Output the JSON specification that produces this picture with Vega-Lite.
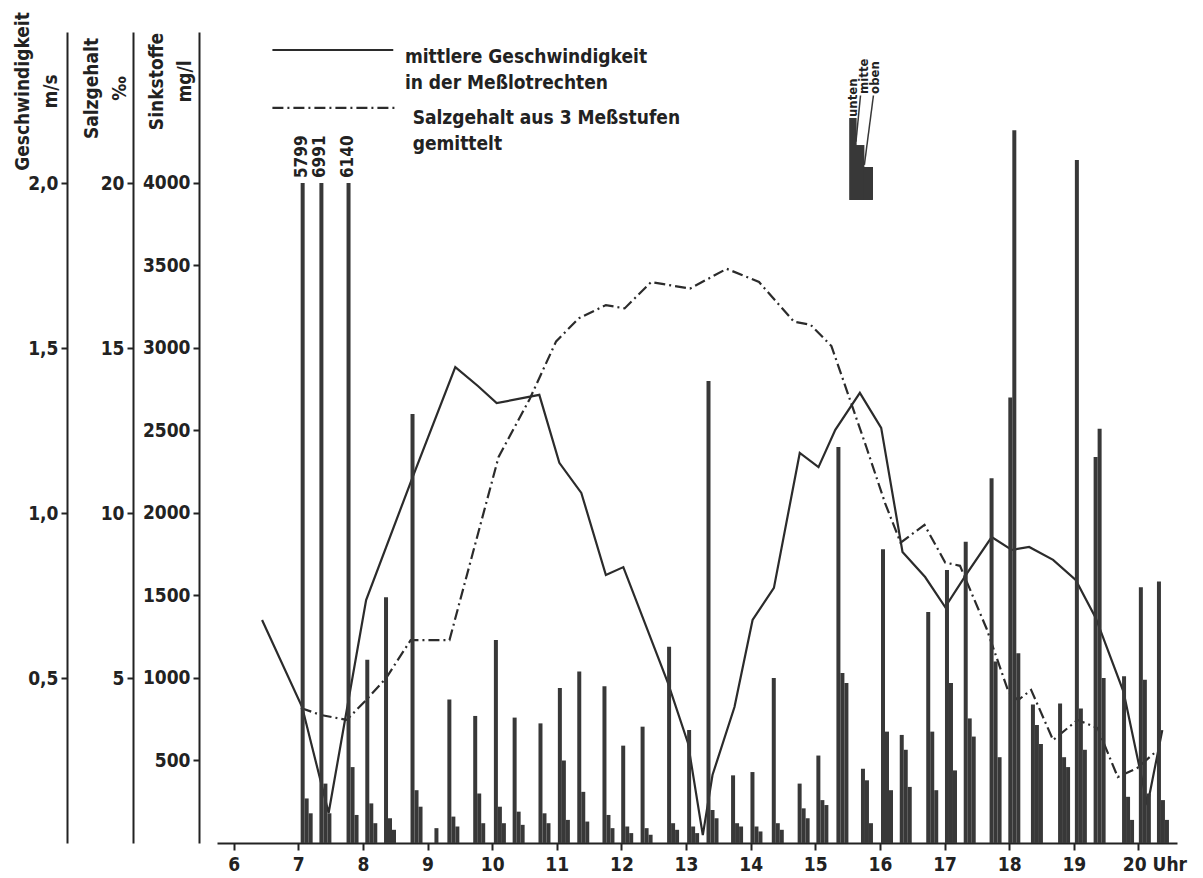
{
  "$schema": "https://vega.github.io/schema/vega-lite/v6.json",
  "width": 960,
  "height": 811,
  "autosize": {"type": "none"},
  "padding": {"left": 217, "top": 32, "right": 26, "bottom": 35},
  "background": "white",
  "config": {
    "view": {"stroke": null},
    "axis": {
      "grid": false,
      "domainColor": "#222",
      "domainWidth": 2,
      "tickColor": "#222",
      "tickWidth": 2,
      "tickSize": 6,
      "labelFont": "DejaVu Sans Condensed",
      "labelFontWeight": "bold",
      "labelFontSize": 19,
      "labelColor": "#222",
      "labelPadding": 3,
      "titleFont": "DejaVu Sans Condensed",
      "titleFontWeight": "bold",
      "titleFontSize": 19,
      "titleColor": "#222"
    },
    "text": {"font": "DejaVu Sans Condensed", "fontWeight": "bold", "color": "#222"}
  },
  "datasets": {
    "geschwindigkeit": [
      {"t": 6.44, "v": 0.676}, {"t": 7.06, "v": 0.412}, {"t": 7.47, "v": 0.091}, {"t": 8.05, "v": 0.736},
      {"t": 8.77, "v": 1.109}, {"t": 9.43, "v": 1.442}, {"t": 9.78, "v": 1.385}, {"t": 10.07, "v": 1.333},
      {"t": 10.73, "v": 1.358}, {"t": 11.04, "v": 1.152}, {"t": 11.38, "v": 1.061}, {"t": 11.76, "v": 0.812},
      {"t": 12.03, "v": 0.836}, {"t": 12.72, "v": 0.485}, {"t": 13.03, "v": 0.303}, {"t": 13.26, "v": 0.024},
      {"t": 13.41, "v": 0.206}, {"t": 13.75, "v": 0.412}, {"t": 14.03, "v": 0.676}, {"t": 14.36, "v": 0.773},
      {"t": 14.76, "v": 1.182}, {"t": 15.05, "v": 1.139}, {"t": 15.31, "v": 1.252}, {"t": 15.69, "v": 1.364},
      {"t": 16.02, "v": 1.258}, {"t": 16.35, "v": 0.882}, {"t": 16.70, "v": 0.806}, {"t": 17.01, "v": 0.715},
      {"t": 17.35, "v": 0.818}, {"t": 17.73, "v": 0.927}, {"t": 18.04, "v": 0.888}, {"t": 18.31, "v": 0.897},
      {"t": 18.68, "v": 0.858}, {"t": 19.03, "v": 0.797}, {"t": 19.34, "v": 0.682}, {"t": 19.77, "v": 0.458},
      {"t": 20.14, "v": 0.115}, {"t": 20.37, "v": 0.342}
    ],
    "salz": [
      {"t": 7.04, "s": 4.09}, {"t": 7.35, "s": 3.88}, {"t": 7.75, "s": 3.73}, {"t": 8.05, "s": 4.33},
      {"t": 8.36, "s": 5.0}, {"t": 8.74, "s": 6.15}, {"t": 9.34, "s": 6.15}, {"t": 10.10, "s": 11.7},
      {"t": 10.58, "s": 13.45}, {"t": 10.99, "s": 15.2}, {"t": 11.34, "s": 15.9}, {"t": 11.76, "s": 16.3},
      {"t": 12.05, "s": 16.2}, {"t": 12.46, "s": 17.0}, {"t": 13.06, "s": 16.8}, {"t": 13.63, "s": 17.4},
      {"t": 14.13, "s": 17.0}, {"t": 14.67, "s": 15.8}, {"t": 14.93, "s": 15.7}, {"t": 15.25, "s": 15.06},
      {"t": 15.79, "s": 12.0}, {"t": 16.08, "s": 10.3}, {"t": 16.32, "s": 9.1}, {"t": 16.69, "s": 9.64},
      {"t": 17.01, "s": 8.5}, {"t": 17.24, "s": 8.4}, {"t": 17.65, "s": 6.5}, {"t": 17.99, "s": 4.58},
      {"t": 18.14, "s": 4.33}, {"t": 18.34, "s": 4.64}, {"t": 18.68, "s": 3.12}, {"t": 19.06, "s": 3.73},
      {"t": 19.37, "s": 3.48}, {"t": 19.68, "s": 2.0}, {"t": 19.98, "s": 2.27}, {"t": 20.29, "s": 2.8}
    ],
    "sinkstoffe": [
      {"t": 7.13, "stufe": "unten", "mg": 5799}, {"t": 7.13, "stufe": "mitte", "mg": 270}, {"t": 7.13, "stufe": "oben", "mg": 180},
      {"t": 7.42, "stufe": "unten", "mg": 6991}, {"t": 7.42, "stufe": "mitte", "mg": 360}, {"t": 7.42, "stufe": "oben", "mg": 180},
      {"t": 7.84, "stufe": "unten", "mg": 6140}, {"t": 7.84, "stufe": "mitte", "mg": 460}, {"t": 7.84, "stufe": "oben", "mg": 170},
      {"t": 8.13, "stufe": "unten", "mg": 1110}, {"t": 8.13, "stufe": "mitte", "mg": 240}, {"t": 8.13, "stufe": "oben", "mg": 120},
      {"t": 8.42, "stufe": "unten", "mg": 1490}, {"t": 8.42, "stufe": "mitte", "mg": 150}, {"t": 8.42, "stufe": "oben", "mg": 80},
      {"t": 8.83, "stufe": "unten", "mg": 2600}, {"t": 8.83, "stufe": "mitte", "mg": 320}, {"t": 8.83, "stufe": "oben", "mg": 220},
      {"t": 9.20, "stufe": "unten", "mg": 90},
      {"t": 9.40, "stufe": "unten", "mg": 870}, {"t": 9.40, "stufe": "mitte", "mg": 160}, {"t": 9.40, "stufe": "oben", "mg": 100},
      {"t": 9.80, "stufe": "unten", "mg": 770}, {"t": 9.80, "stufe": "mitte", "mg": 300}, {"t": 9.80, "stufe": "oben", "mg": 120},
      {"t": 10.12, "stufe": "unten", "mg": 1230}, {"t": 10.12, "stufe": "mitte", "mg": 220}, {"t": 10.12, "stufe": "oben", "mg": 120},
      {"t": 10.41, "stufe": "unten", "mg": 760}, {"t": 10.41, "stufe": "mitte", "mg": 190}, {"t": 10.41, "stufe": "oben", "mg": 110},
      {"t": 10.81, "stufe": "unten", "mg": 725}, {"t": 10.81, "stufe": "mitte", "mg": 180}, {"t": 10.81, "stufe": "oben", "mg": 120},
      {"t": 11.11, "stufe": "unten", "mg": 940}, {"t": 11.11, "stufe": "mitte", "mg": 500}, {"t": 11.11, "stufe": "oben", "mg": 140},
      {"t": 11.41, "stufe": "unten", "mg": 1040}, {"t": 11.41, "stufe": "mitte", "mg": 310}, {"t": 11.41, "stufe": "oben", "mg": 130},
      {"t": 11.80, "stufe": "unten", "mg": 950}, {"t": 11.80, "stufe": "mitte", "mg": 170}, {"t": 11.80, "stufe": "oben", "mg": 90},
      {"t": 12.09, "stufe": "unten", "mg": 590}, {"t": 12.09, "stufe": "mitte", "mg": 100}, {"t": 12.09, "stufe": "oben", "mg": 60},
      {"t": 12.39, "stufe": "unten", "mg": 705}, {"t": 12.39, "stufe": "mitte", "mg": 90}, {"t": 12.39, "stufe": "oben", "mg": 50},
      {"t": 12.80, "stufe": "unten", "mg": 1190}, {"t": 12.80, "stufe": "mitte", "mg": 120}, {"t": 12.80, "stufe": "oben", "mg": 80},
      {"t": 13.11, "stufe": "unten", "mg": 685}, {"t": 13.11, "stufe": "mitte", "mg": 100}, {"t": 13.11, "stufe": "oben", "mg": 60},
      {"t": 13.41, "stufe": "unten", "mg": 2800}, {"t": 13.41, "stufe": "mitte", "mg": 200}, {"t": 13.41, "stufe": "oben", "mg": 150},
      {"t": 13.79, "stufe": "unten", "mg": 410}, {"t": 13.79, "stufe": "mitte", "mg": 120}, {"t": 13.79, "stufe": "oben", "mg": 100},
      {"t": 14.09, "stufe": "unten", "mg": 430}, {"t": 14.09, "stufe": "mitte", "mg": 100}, {"t": 14.09, "stufe": "oben", "mg": 70},
      {"t": 14.42, "stufe": "unten", "mg": 1000}, {"t": 14.42, "stufe": "mitte", "mg": 120}, {"t": 14.42, "stufe": "oben", "mg": 80},
      {"t": 14.82, "stufe": "unten", "mg": 360}, {"t": 14.82, "stufe": "mitte", "mg": 210}, {"t": 14.82, "stufe": "oben", "mg": 150},
      {"t": 15.11, "stufe": "unten", "mg": 530}, {"t": 15.11, "stufe": "mitte", "mg": 260}, {"t": 15.11, "stufe": "oben", "mg": 230},
      {"t": 15.42, "stufe": "unten", "mg": 2400}, {"t": 15.42, "stufe": "mitte", "mg": 1030}, {"t": 15.42, "stufe": "oben", "mg": 970},
      {"t": 15.80, "stufe": "unten", "mg": 450}, {"t": 15.80, "stufe": "mitte", "mg": 380}, {"t": 15.80, "stufe": "oben", "mg": 120},
      {"t": 16.11, "stufe": "unten", "mg": 1780}, {"t": 16.11, "stufe": "mitte", "mg": 675}, {"t": 16.11, "stufe": "oben", "mg": 320},
      {"t": 16.40, "stufe": "unten", "mg": 655}, {"t": 16.40, "stufe": "mitte", "mg": 565}, {"t": 16.40, "stufe": "oben", "mg": 340},
      {"t": 16.81, "stufe": "unten", "mg": 1400}, {"t": 16.81, "stufe": "mitte", "mg": 675}, {"t": 16.81, "stufe": "oben", "mg": 320},
      {"t": 17.10, "stufe": "unten", "mg": 1655}, {"t": 17.10, "stufe": "mitte", "mg": 970}, {"t": 17.10, "stufe": "oben", "mg": 440},
      {"t": 17.39, "stufe": "unten", "mg": 1825}, {"t": 17.39, "stufe": "mitte", "mg": 755}, {"t": 17.39, "stufe": "oben", "mg": 645},
      {"t": 17.79, "stufe": "unten", "mg": 2210}, {"t": 17.79, "stufe": "mitte", "mg": 1100}, {"t": 17.79, "stufe": "oben", "mg": 520},
      {"t": 18.08, "stufe": "unten", "mg": 2700}, {"t": 18.08, "stufe": "mitte", "mg": 4320}, {"t": 18.08, "stufe": "oben", "mg": 1150},
      {"t": 18.43, "stufe": "unten", "mg": 840}, {"t": 18.43, "stufe": "mitte", "mg": 715}, {"t": 18.43, "stufe": "oben", "mg": 600},
      {"t": 18.85, "stufe": "unten", "mg": 845}, {"t": 18.85, "stufe": "mitte", "mg": 520}, {"t": 18.85, "stufe": "oben", "mg": 460},
      {"t": 19.11, "stufe": "unten", "mg": 4140}, {"t": 19.11, "stufe": "mitte", "mg": 815}, {"t": 19.11, "stufe": "oben", "mg": 565},
      {"t": 19.40, "stufe": "unten", "mg": 2340}, {"t": 19.40, "stufe": "mitte", "mg": 2510}, {"t": 19.40, "stufe": "oben", "mg": 1000},
      {"t": 19.84, "stufe": "unten", "mg": 1010}, {"t": 19.84, "stufe": "mitte", "mg": 280}, {"t": 19.84, "stufe": "oben", "mg": 140},
      {"t": 20.10, "stufe": "unten", "mg": 1550}, {"t": 20.10, "stufe": "mitte", "mg": 990}, {"t": 20.10, "stufe": "oben", "mg": 300},
      {"t": 20.38, "stufe": "unten", "mg": 1585}, {"t": 20.38, "stufe": "mitte", "mg": 260}, {"t": 20.38, "stufe": "oben", "mg": 140}
    ]
  },
  "layer": [
    {
      "data": {"name": "geschwindigkeit"},
      "mark": {"type": "line", "color": "#2b2b2b", "strokeWidth": 2.2},
      "encoding": {
        "x": {
          "field": "t",
          "type": "quantitative",
          "scale": {"domain": [5.82, 20.52], "nice": false, "zero": false},
          "axis": {
            "title": null,
            "values": [6, 7, 8, 9, 10, 11, 12, 13, 14, 15, 16, 17, 18, 19, 20],
            "format": "d",
            "labelExpr": "datum.value == 20 ? '20 Uhr' : datum.label",
            "labelOffset": {"condition": {"test": "datum.value == 20", "value": 16}, "value": 0},
            "labelPadding": 5,
            "tickSize": 7
          }
        },
        "y": {
          "field": "v",
          "type": "quantitative",
          "scale": {"domain": [0, 2.4576], "nice": false, "zero": true},
          "axis": {
            "orient": "left",
            "offset": 150,
            "values": [0.5, 1, 1.5, 2],
            "format": ".1f",
            "labelExpr": "replace(datum.label, '.', ',')",
            "title": ["Geschwindigkeit", "m/s"],
            "titleAngle": 270,
            "titleAlign": "center",
            "titleBaseline": "top",
            "titleX": -54,
            "titleY": 59,
            "titleLineHeight": 28
          }
        }
      }
    },
    {
      "data": {"name": "salz"},
      "mark": {"type": "line", "color": "#2b2b2b", "strokeWidth": 2.2, "strokeDash": [11, 4, 2, 4]},
      "encoding": {
        "x": {"field": "t", "type": "quantitative"},
        "y": {
          "field": "s",
          "type": "quantitative",
          "scale": {"domain": [0, 24.576], "nice": false, "zero": true},
          "axis": {
            "orient": "left",
            "offset": 84,
            "values": [5, 10, 15, 20],
            "format": "d",
            "title": ["Salzgehalt", "‰"],
            "titleAngle": 270,
            "titleAlign": "center",
            "titleBaseline": "top",
            "titleX": -51,
            "titleY": 56,
            "titleLineHeight": 28
          }
        }
      }
    },
    {
      "layer": [
        {
          "data": {"name": "sinkstoffe"},
          "transform": [{"filter": "datum.stufe === 'unten' && datum.mg <= 4900"}],
          "mark": {"type": "bar", "size": 4, "xOffset": -4, "color": "#383838"},
          "encoding": {
            "x": {"field": "t", "type": "quantitative"},
            "y": {
              "field": "mg",
              "type": "quantitative",
              "scale": {"domain": [0, 4915], "nice": false, "zero": true},
              "axis": {
                "orient": "left",
                "offset": 18,
                "values": [500, 1000, 1500, 2000, 2500, 3000, 3500, 4000],
                "format": "d",
                "title": ["Sinkstoffe", "mg/l"],
                "titleAngle": 270,
                "titleAlign": "center",
                "titleBaseline": "top",
                "titleX": -52,
                "titleY": 49,
                "titleLineHeight": 28
              }
            }
          }
        },
        {
          "data": {"name": "sinkstoffe"},
          "transform": [{"filter": "datum.stufe === 'mitte' && datum.mg <= 4900"}],
          "mark": {"type": "bar", "size": 4, "xOffset": 0, "color": "#383838"},
          "encoding": {
            "x": {"field": "t", "type": "quantitative"},
            "y": {"field": "mg", "type": "quantitative"}
          }
        },
        {
          "data": {"name": "sinkstoffe"},
          "transform": [{"filter": "datum.stufe === 'oben' && datum.mg <= 4900"}],
          "mark": {"type": "bar", "size": 4, "xOffset": 4, "color": "#383838"},
          "encoding": {
            "x": {"field": "t", "type": "quantitative"},
            "y": {"field": "mg", "type": "quantitative"}
          }
        },
        {
          "data": {"name": "sinkstoffe"},
          "transform": [{"filter": "datum.mg > 4900"}],
          "mark": {"type": "bar", "size": 4, "xOffset": -4, "color": "#383838"},
          "encoding": {
            "x": {"field": "t", "type": "quantitative"},
            "y": {"datum": 4000, "type": "quantitative"},
            "y2": {"datum": 0}
          }
        },
        {
          "data": {"name": "sinkstoffe"},
          "transform": [{"filter": "datum.mg > 4900"}],
          "mark": {"type": "text", "angle": 270, "align": "left", "baseline": "middle", "fontSize": 17, "xOffset": -5},
          "encoding": {
            "x": {"field": "t", "type": "quantitative"},
            "y": {"datum": 4030, "type": "quantitative"},
            "text": {"field": "mg", "type": "quantitative", "format": "d"}
          }
        },
        {
          "data": {"values": [{"legende": "Geschwindigkeit"}]},
          "mark": {"type": "rule", "color": "#2b2b2b", "strokeWidth": 2.2},
          "encoding": {
            "x": {"datum": 6.6, "type": "quantitative"},
            "x2": {"datum": 8.47},
            "y": {"datum": 4806, "type": "quantitative"}
          }
        },
        {
          "data": {"values": [{"legende": "Salzgehalt"}]},
          "mark": {"type": "rule", "color": "#2b2b2b", "strokeWidth": 2.2, "strokeDash": [11, 4, 2, 4]},
          "encoding": {
            "x": {"datum": 6.6, "type": "quantitative"},
            "x2": {"datum": 8.54},
            "y": {"datum": 4455, "type": "quantitative"}
          }
        },
        {
          "data": {"values": [{"legende": "Geschwindigkeit"}]},
          "mark": {"type": "text", "align": "left", "baseline": "middle", "fontSize": 19, "lineHeight": 26},
          "encoding": {
            "x": {"datum": 8.65, "type": "quantitative"},
            "y": {"datum": 4764, "type": "quantitative"},
            "text": {"value": ["mittlere Geschwindigkeit", "in der Meßlotrechten"]}
          }
        },
        {
          "data": {"values": [{"legende": "Salzgehalt"}]},
          "mark": {"type": "text", "align": "left", "baseline": "middle", "fontSize": 19, "lineHeight": 26},
          "encoding": {
            "x": {"datum": 8.77, "type": "quantitative"},
            "y": {"datum": 4394, "type": "quantitative"},
            "text": {"value": ["Salzgehalt aus 3 Meßstufen", "gemittelt"]}
          }
        },
        {
          "data": {"values": [{"legende": "unten"}]},
          "mark": {"type": "rect", "color": "#383838"},
          "encoding": {
            "x": {"datum": 15.525, "type": "quantitative"},
            "x2": {"datum": 15.64},
            "y": {"datum": 4394, "type": "quantitative"},
            "y2": {"datum": 3897}
          }
        },
        {
          "data": {"values": [{"legende": "mitte"}]},
          "mark": {"type": "rect", "color": "#383838"},
          "encoding": {
            "x": {"datum": 15.63, "type": "quantitative"},
            "x2": {"datum": 15.76},
            "y": {"datum": 4230, "type": "quantitative"},
            "y2": {"datum": 3897}
          }
        },
        {
          "data": {"values": [{"legende": "oben"}]},
          "mark": {"type": "rect", "color": "#383838"},
          "encoding": {
            "x": {"datum": 15.75, "type": "quantitative"},
            "x2": {"datum": 15.893},
            "y": {"datum": 4097, "type": "quantitative"},
            "y2": {"datum": 3897}
          }
        },
        {
          "data": {"values": [{"legende": "mitte"}]},
          "mark": {"type": "rule", "color": "#383838", "strokeWidth": 1.5},
          "encoding": {
            "x": {"datum": 15.70, "type": "quantitative"},
            "x2": {"datum": 15.63},
            "y": {"datum": 4530, "type": "quantitative"},
            "y2": {"datum": 4250}
          }
        },
        {
          "data": {"values": [{"legende": "oben"}]},
          "mark": {"type": "rule", "color": "#383838", "strokeWidth": 1.5},
          "encoding": {
            "x": {"datum": 15.90, "type": "quantitative"},
            "x2": {"datum": 15.76},
            "y": {"datum": 4530, "type": "quantitative"},
            "y2": {"datum": 4110}
          }
        },
        {
          "data": {"values": [{"legende": "unten"}]},
          "mark": {"type": "text", "angle": 270, "align": "left", "baseline": "middle", "fontSize": 13},
          "encoding": {
            "x": {"datum": 15.585, "type": "quantitative"},
            "y": {"datum": 4400, "type": "quantitative"},
            "text": {"field": "legende"}
          }
        },
        {
          "data": {"values": [{"legende": "mitte"}]},
          "mark": {"type": "text", "angle": 270, "align": "left", "baseline": "middle", "fontSize": 13},
          "encoding": {
            "x": {"datum": 15.75, "type": "quantitative"},
            "y": {"datum": 4540, "type": "quantitative"},
            "text": {"field": "legende"}
          }
        },
        {
          "data": {"values": [{"legende": "oben"}]},
          "mark": {"type": "text", "angle": 270, "align": "left", "baseline": "middle", "fontSize": 13},
          "encoding": {
            "x": {"datum": 15.93, "type": "quantitative"},
            "y": {"datum": 4540, "type": "quantitative"},
            "text": {"field": "legende"}
          }
        }
      ]
    }
  ],
  "resolve": {"scale": {"y": "independent"}}
}
